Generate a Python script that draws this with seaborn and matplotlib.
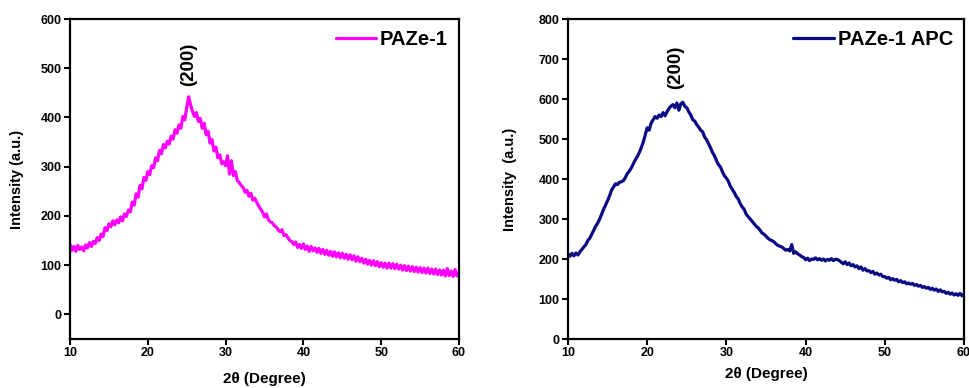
import numpy as np
import pandas as pd
import matplotlib
matplotlib.use("Agg")
import matplotlib.pyplot as plt
import seaborn as sns

# 2-theta sampling, 0.25 degree steps from 10 to 60
two_theta = [10 + 0.25 * i for i in range(201)]

paze1 = [
    142, 130, 138, 128,  140, 132, 137, 129,  141, 135, 146, 138,
    148, 144, 156, 150,  163, 158, 176, 170,  184, 178, 190, 182,
    192, 186, 198, 190,  204, 199, 212, 208,  228, 222, 245, 238,
    262, 255, 278, 272,  290, 284, 302, 298,  318, 312, 333, 326,
    345, 338, 352, 346,  362, 356, 375, 368,  385, 378, 402, 395,
    420, 442, 425, 412,  402, 410, 392, 398,  378, 388, 365, 372,
    348, 355, 332, 340,  318, 324, 306, 310,  302, 322, 285, 312,
    282, 290, 272, 268,  262, 258, 248, 252,  240, 246, 232, 236,
    228, 220, 214, 208,  198, 204, 192, 188,  186, 180, 178, 172,
    168, 172, 160, 162,  156, 150, 148, 142,  147, 136, 142, 134,
    143, 132, 139, 128,  138, 129, 135, 126,  134, 124, 132, 122,
    130, 120, 128, 118,  127, 117, 125, 115,  124, 114, 122, 112,
    121, 111, 119, 108,  117, 107, 114, 104,  112, 102, 110, 100,
    109, 99, 107, 97,    105, 96, 104, 94,    104, 94, 103, 93,
    102, 92, 100, 90,    99, 89, 98, 88,     97, 87, 96, 86,
    95, 85, 94, 84,      94, 83, 92, 82,     92, 81, 90, 80,
    90, 78, 93, 79,      88, 77, 91, 78,     86,
]

paze1_apc = [
    212, 207, 214, 208,  215, 210, 218, 224,  230, 236, 246, 252,
    262, 272, 282, 290,  300, 312, 325, 335,  346, 358, 372, 380,
    388, 386, 392, 393,  396, 404, 414, 420,  428, 438, 448, 456,
    466, 478, 492, 510,  528, 522, 540, 548,  556, 552, 560, 556,
    566, 558, 568, 576,  582, 586, 578, 590,  572, 588, 592, 582,
    578, 568, 560, 548,  545, 536, 530, 522,  518, 505, 498, 488,
    478, 466, 458, 446,  436, 430, 418, 408,  402, 394, 382, 374,
    366, 356, 350, 338,  330, 324, 312, 306,  300, 294, 288, 282,
    278, 272, 265, 262,  257, 252, 248, 246,  243, 238, 234, 232,
    230, 226, 222, 224,  220, 236, 214, 218,  213, 210, 206, 204,
    198, 202, 196, 200,  199, 203, 198, 201,  197, 200, 195, 199,
    197, 201, 196, 199,  199, 196, 192, 188,  193, 186, 190, 183,
    186, 180, 183, 176,  180, 172, 176, 170,  171, 166, 169, 162,
    165, 160, 162, 156,  156, 152, 154, 148,  151, 147, 149, 143,
    146, 141, 143, 138,  140, 137, 139, 134,  136, 132, 134, 129,
    131, 127, 129, 124,  127, 122, 125, 119,  123, 118, 119, 114,
    117, 112, 115, 110,  113, 109, 114, 108,  112,
]

x_ticks = [10, 20, 30, 40, 50, 60]
left_yticks = [0, 100, 200, 300, 400, 500, 600]
right_yticks = [0, 100, 200, 300, 400, 500, 600, 700, 800]

sns.set_style("ticks")
plt.rcParams["font.family"] = ["Liberation Sans", "DejaVu Sans"]
plt.rcParams["font.weight"] = "bold"
plt.rcParams["text.color"] = "black"
plt.rcParams["axes.labelcolor"] = "black"

fig = plt.figure(figsize=(9.7, 3.88), dpi=100)
ax1 = fig.add_axes([70 / 970, 1 - 339 / 388, 389 / 970, 320 / 388])
ax2 = fig.add_axes([568 / 970, 1 - 339 / 388, 396 / 970, 320 / 388])

df1 = pd.DataFrame({"2theta": two_theta, "Intensity": paze1})
df2 = pd.DataFrame({"2theta": two_theta, "Intensity": paze1_apc})

sns.lineplot(data=df1, x="2theta", y="Intensity", ax=ax1, color="#ff00ff",
             linewidth=2.3, label="PAZe-1")
sns.lineplot(data=df2, x="2theta", y="Intensity", ax=ax2, color="#0a0a85",
             linewidth=2.3, label="PAZe-1 APC")

panels = [
    (ax1, (-50, 600), left_yticks, "Intensity (a.u.)", -0.118, -0.103, 25.3, 463),
    (ax2, (0, 800), right_yticks, "Intensity  (a.u.)", -0.129, -0.087, 23.6, 625),
]
for ax, ylim, yticks, ylab, ylx, xly, lab_x, lab_y in panels:
    ax.set_xlim(10, 60)
    ax.set_ylim(*ylim)
    ax.set_xticks(x_ticks)
    ax.set_yticks(yticks)
    ax.set_xlabel("2θ (Degree)", fontsize=11, fontweight="bold")
    ax.set_ylabel(ylab, fontsize=10.5, fontweight="bold")
    ax.yaxis.set_label_coords(ylx, 0.5)
    ax.xaxis.set_label_coords(0.5, xly)
    for side in ["top", "right", "bottom", "left"]:
        ax.spines[side].set_visible(True)
        ax.spines[side].set_linewidth(1.6)
        ax.spines[side].set_color("black")
    ax.tick_params(axis="both", direction="out", length=4, width=1.5,
                   labelsize=9, colors="black", pad=2)
    for lab in ax.get_xticklabels() + ax.get_yticklabels():
        lab.set_fontweight("bold")
    leg = ax.legend(loc="upper right", frameon=False,
                    handlelength=2.0, handletextpad=0.2,
                    borderaxespad=0.15, prop={"weight": "bold", "size": 14.5})
    for t in leg.get_texts():
        t.set_color("black")
    ax.text(lab_x, lab_y, "(200)", rotation=90, ha="center", va="bottom",
            fontsize=13.5, fontweight="bold", color="black")

fig.savefig("out.png", dpi=100)
